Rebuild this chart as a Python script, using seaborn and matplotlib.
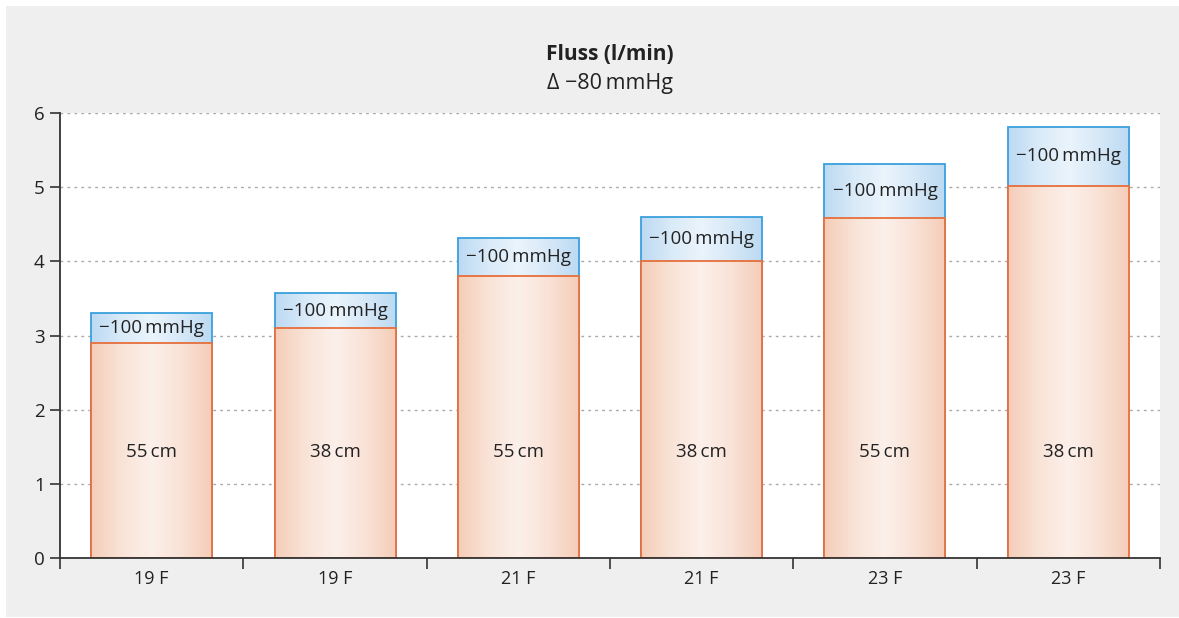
import numpy as np
import pandas as pd
import matplotlib
matplotlib.use("Agg")
import matplotlib.pyplot as plt
from matplotlib.patches import Rectangle
from matplotlib.colors import LinearSegmentedColormap
import seaborn as sns

# Flow (l/min) per catheter size and length
catheters = ["19 F", "19 F", "21 F", "21 F", "23 F", "23 F"]
lengths = ["55\u2009cm", "38\u2009cm", "55\u2009cm", "38\u2009cm", "55\u2009cm", "38\u2009cm"]
flow_80 = [2.9, 3.1, 3.8, 4.0, 4.58, 5.02]     # at -80 mmHg
flow_100 = [3.3, 3.57, 4.31, 4.6, 5.31, 5.81]  # at -100 mmHg
top_label = "\u2212100\u2009mmHg"
title_main = "Fluss (l/min)"
title_sub = "\u0394 \u221280\u2009mmHg"

sns.set_theme(style="white")
plt.rcParams["font.family"] = ["Open Sans", "DejaVu Sans"]

W, H = 1179, 618
fig = plt.figure(figsize=(W / 100, H / 100), dpi=100)
fig.patch.set_facecolor("white")
fig.patches.append(Rectangle((6 / W, 1 / H), 1 - 6 / W, (611) / H,
                             transform=fig.transFigure, facecolor="#efefef",
                             edgecolor="none", zorder=-10))

ax = fig.add_axes([60 / W, 1 - 558 / H, 1100 / W, 445 / H])
ax.set_facecolor("white")

df = pd.DataFrame({
    "pos": [str(i) for i in range(len(catheters))],
    "base": flow_80,
    "top": flow_100,
})

width = 0.66
sns.barplot(data=df, x="pos", y="top", ax=ax, color="#bcdcf3", width=width,
            edgecolor="#3aa0dc", linewidth=1.3, saturation=1, zorder=2)
sns.barplot(data=df, x="pos", y="base", ax=ax, color="#f5cdb8", width=width,
            edgecolor="#e66f3c", linewidth=1.3, saturation=1, zorder=4)

orange_cmap = LinearSegmentedColormap.from_list(
    "or", ["#f5cdb8", "#f9e3d7", "#fcf0ea", "#f9e2d6", "#f5cdb8"])
blue_cmap = LinearSegmentedColormap.from_list(
    "bl", ["#bcdaf2", "#d9eaf8", "#eaf4fc", "#d6e8f7", "#bcdaf2"])
grad = np.linspace(0, 1, 256).reshape(1, -1)

n = len(catheters)
blue_patches = ax.patches[:n]
orange_patches = ax.patches[n:2 * n]
for patches, cmap, z in ((blue_patches, blue_cmap, 2.5), (orange_patches, orange_cmap, 4.5)):
    for p in patches:
        x0, y0 = p.get_x(), p.get_y()
        w, h = p.get_width(), p.get_height()
        p.set_facecolor("none")
        p.set_zorder(z + 0.2)
        im = ax.imshow(grad, cmap=cmap, extent=[x0, x0 + w, y0, y0 + h],
                       aspect="auto", zorder=z, interpolation="bicubic")
        im.set_clip_path(p)

for i in range(n):
    ax.text(i, 1.43, lengths[i], ha="center", va="center", fontsize=13.5,
            color="#222222", zorder=6)
    ax.text(i, (flow_80[i] + flow_100[i]) / 2, top_label, ha="center",
            va="center", fontsize=13.5, color="#222222", zorder=6)

ax.set_xlim(-0.5, n - 0.5)
ax.set_ylim(0, 6)
ax.set_xlabel("")
ax.set_ylabel("")

ax.set_yticks(range(7))
ax.set_yticklabels([str(v) for v in range(7)], fontsize=13.5, color="#222222")
ax.set_xticks(np.arange(-0.5, n, 1.0))
ax.set_xticklabels([])
ax.set_xticks(range(n), minor=True)
ax.set_xticklabels(catheters, minor=True, fontsize=13, color="#222222")
ax.tick_params(axis="x", which="major", direction="out", length=8, width=1.2,
               color="#333333", bottom=True)
ax.tick_params(axis="x", which="minor", length=0, pad=9)
ax.tick_params(axis="y", direction="out", length=7, width=1.2, color="#333333",
               left=True, pad=4)

for y in range(1, 7):
    ax.axhline(y, color="#aaaaaa", linestyle=(0, (2, 3)), linewidth=1, zorder=1)

for s in ("top", "right"):
    ax.spines[s].set_visible(False)
for s in ("left", "bottom"):
    ax.spines[s].set_color("#333333")
    ax.spines[s].set_linewidth(1.3)
    ax.spines[s].set_zorder(7)

fig.text(610 / W, 1 - 55 / H, title_main, ha="center", va="center",
         fontsize=15, fontweight="bold", color="#222222")
fig.text(610 / W, 1 - 84 / H, title_sub, ha="center", va="center",
         fontsize=15.5, color="#222222")

fig.savefig("out.png", dpi=100, facecolor=fig.get_facecolor())
